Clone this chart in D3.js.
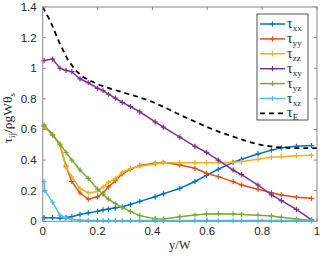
<!DOCTYPE html>
<html><head><meta charset="utf-8">
<script src="https://cdn.jsdelivr.net/npm/d3@7"></script>
<style>html,body{margin:0;padding:0;background:#fff;}</style>
</head><body>
<svg id="c" width="320" height="256"></svg>
<script>
const xGrid = [0.005,0.036,0.063,0.085,0.106,0.136,0.166,0.2,0.22,0.24,0.265,0.29,0.32,0.354,0.41,0.44,0.5,0.555,0.597,0.64,0.694,0.725,0.785,0.834,0.87,0.925,0.98];
const tauXX = [0.024,0.024,0.02,0.025,0.03,0.045,0.055,0.065,0.074,0.08,0.088,0.095,0.11,0.13,0.16,0.18,0.215,0.26,0.3,0.34,0.385,0.405,0.44,0.465,0.48,0.49,0.495];
const tauYY = [0.62,0.565,0.5,0.36,0.26,0.185,0.145,0.16,0.185,0.225,0.265,0.31,0.34,0.365,0.38,0.385,0.368,0.346,0.314,0.292,0.259,0.237,0.209,0.187,0.172,0.157,0.15];
const tauZZ = [0.62,0.565,0.5,0.35,0.29,0.215,0.185,0.195,0.225,0.255,0.28,0.32,0.345,0.36,0.375,0.383,0.383,0.383,0.383,0.383,0.385,0.39,0.405,0.418,0.422,0.429,0.431];
const tauXY = [1.05,1.06,1.0,0.985,0.978,0.93,0.905,0.869,0.854,0.83,0.805,0.777,0.75,0.715,0.65,0.615,0.55,0.49,0.45,0.4,0.335,0.305,0.237,0.172,0.135,0.078,0.01];
const tauYZ = [0.63,0.565,0.505,0.45,0.4,0.335,0.28,0.21,0.175,0.145,0.115,0.09,0.065,0.037,0.017,0.015,0.03,0.041,0.048,0.05,0.048,0.045,0.04,0.035,0.026,0.015,0.005];
const xzGrid = [0.005,0.007,0.036,0.063,0.085,0.106,0.136,0.166,0.2,0.22,0.24,0.265,0.29,0.32,0.354,0.41,0.44,0.5,0.555,0.597,0.64,0.694,0.725,0.785,0.834,0.87,0.925,0.98];
const tauXZ = [0.26,0.2,0.125,0.04,0.02,0.012,0.008,0.006,0.005,0.005,0.005,0.005,0.005,0.005,0.005,0.005,0.005,0.005,0.005,0.005,0.005,0.005,0.005,0.005,0.005,0.005,0.005,0.005];
const eX = [0,0.03,0.06,0.09,0.12,0.15,0.2,0.25,0.3,0.35,0.4,0.45,0.5,0.55,0.6,0.65,0.7,0.75,0.8,0.85,0.9,0.95,1];
const tauE = [1.4,1.3,1.17,1.06,0.985,0.94,0.895,0.865,0.838,0.812,0.78,0.74,0.695,0.655,0.615,0.58,0.55,0.52,0.497,0.485,0.479,0.478,0.478];
const seriesNames = ["xx","yy","zz","xy","yz","xz"];
const seriesColors = ["#0072BD","#D95319","#EDB120","#7E2F8E","#77AC30","#4DBEEE"];
const xTicks = [0,0.2,0.4,0.6,0.8,1];
const yTicks = [0,0.2,0.4,0.6,0.8,1,1.2,1.4];

const svg = d3.select("#c");
const L=42.7, R=317, T=7, B=221.3;
const x = d3.scaleLinear().domain([0,1]).range([L,R]);
const y = d3.scaleLinear().domain([0,1.4]).range([B,T]);
const axisCol = "#8a8a8a", textCol = "#262626";

const series = [
  {x:xGrid, v:tauXX},{x:xGrid, v:tauYY},{x:xGrid, v:tauZZ},
  {x:xGrid, v:tauXY},{x:xGrid, v:tauYZ},{x:xzGrid, v:tauXZ}
];
const line = d3.line().x(d=>x(d[0])).y(d=>y(d[1]));
series.forEach((s,i)=>{
  const pts = s.x.map((xx,j)=>[xx,s.v[j]]);
  const g = svg.append("g");
  g.append("path").attr("d",line(pts)).attr("fill","none").attr("stroke",seriesColors[i]).attr("stroke-width",1.5);
  g.selectAll("path.m").data(pts).enter().append("path").attr("class","m")
    .attr("d",d=>{const px=x(d[0]),py=y(d[1]),r=2.6;return `M${px-r},${py}H${px+r}M${px},${py-r}V${py+r}`;})
    .attr("stroke",seriesColors[i]).attr("stroke-width",1.2);
});
svg.append("path").attr("d",line(eX.map((xx,j)=>[xx,tauE[j]])))
  .attr("fill","none").attr("stroke","#000").attr("stroke-width",1.8).attr("stroke-dasharray","5,4");

svg.append("rect").attr("x",L).attr("y",T).attr("width",R-L).attr("height",B-T)
  .attr("fill","none").attr("stroke",axisCol).attr("stroke-width",1);
const tl=3;
xTicks.forEach(t=>{
  svg.append("line").attr("x1",x(t)).attr("x2",x(t)).attr("y1",B).attr("y2",B-tl).attr("stroke",axisCol);
  svg.append("line").attr("x1",x(t)).attr("x2",x(t)).attr("y1",T).attr("y2",T+tl).attr("stroke",axisCol);
  svg.append("text").attr("x",x(t)).attr("y",B+14).attr("text-anchor","middle")
    .attr("font-family","Liberation Sans, Arial, sans-serif").attr("font-size",11.5).attr("fill",textCol).text(d3.format("~g")(t));
});
yTicks.forEach(t=>{
  svg.append("line").attr("x1",L).attr("x2",L+tl).attr("y1",y(t)).attr("y2",y(t)).attr("stroke",axisCol);
  svg.append("line").attr("x1",R).attr("x2",R-tl).attr("y1",y(t)).attr("y2",y(t)).attr("stroke",axisCol);
  svg.append("text").attr("x",L-6).attr("y",y(t)+4).attr("text-anchor","end")
    .attr("font-family","Liberation Sans, Arial, sans-serif").attr("font-size",11.5).attr("fill",textCol).text(d3.format("~g")(t));
});

svg.append("text").attr("x",x(0.5)).attr("y",249).attr("text-anchor","middle")
  .attr("font-family","Liberation Serif, Times New Roman, serif").attr("font-size",12.5).attr("fill",textCol).text("y/W");
const yl = svg.append("text").attr("transform",`translate(12,${(T+B)/2+4}) rotate(-90)`).attr("text-anchor","middle")
  .attr("font-family","Liberation Serif, Times New Roman, serif").attr("font-size",13.5).attr("fill",textCol);
yl.append("tspan").text("τ");
yl.append("tspan").attr("font-size",9).attr("dy",2.5).text("ij");
yl.append("tspan").attr("dy",-2.5).text("/ρgWθ");
yl.append("tspan").attr("font-size",9).attr("dy",2.5).text("s");

const lg = svg.append("g");
lg.append("rect").attr("x",257).attr("y",14).attr("width",51).attr("height",106)
  .attr("fill","#fff").attr("stroke","#262626").attr("stroke-width",0.8);
const rowY = i=>24+i*14.9;
seriesNames.forEach((n,i)=>{
  const yy=rowY(i);
  lg.append("line").attr("x1",260).attr("x2",285).attr("y1",yy).attr("y2",yy).attr("stroke",seriesColors[i]).attr("stroke-width",1.5);
  lg.append("path").attr("d",`M269.9,${yy}H275.1M272.5,${yy-2.6}V${yy+2.6}`).attr("stroke",seriesColors[i]).attr("stroke-width",1.2);
  const t=lg.append("text").attr("x",287).attr("y",yy+4).attr("font-family","Liberation Serif, Times New Roman, serif").attr("font-size",14).attr("fill",textCol);
  t.append("tspan").text("τ");
  t.append("tspan").attr("font-size",9).attr("dy",3).text(n);
});
{
  const yy=rowY(6);
  lg.append("line").attr("x1",260).attr("x2",285).attr("y1",yy).attr("y2",yy).attr("stroke","#000").attr("stroke-width",1.8).attr("stroke-dasharray","5,4");
  const t=lg.append("text").attr("x",287).attr("y",yy+4).attr("font-family","Liberation Serif, Times New Roman, serif").attr("font-size",14).attr("fill",textCol);
  t.append("tspan").text("τ");
  t.append("tspan").attr("font-size",9).attr("dy",3).text("E");
}
</script>
</body></html>
